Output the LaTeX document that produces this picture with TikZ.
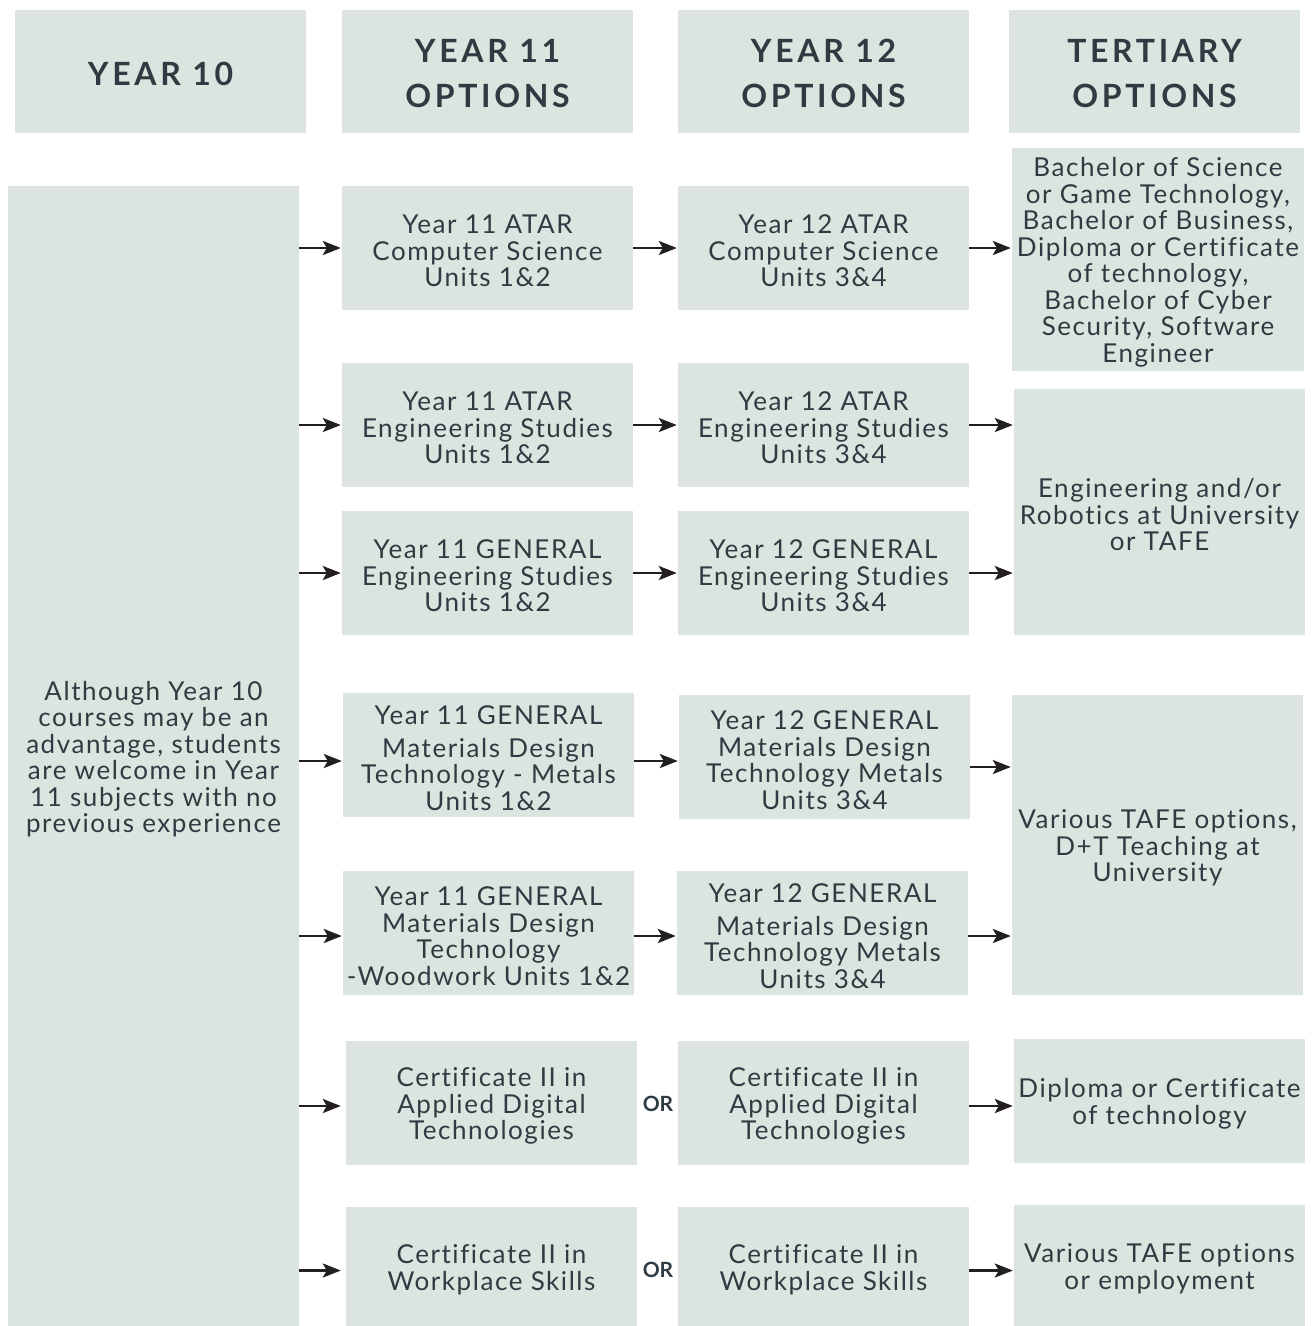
\documentclass[tikz,border=0pt]{standalone}
\usepackage{fontspec}
\setmainfont{Lato}[LetterSpace=6,Ligatures=CommonOff]
\newfontfamily\hdrfont{Lato}[LetterSpace=11.5,Ligatures=CommonOff]
\newfontfamily\orfont{Lato}
\usetikzlibrary{arrows.meta}
\definecolor{boxfill}{HTML}{DCE4DF}
\definecolor{txt}{HTML}{2F3B42}
\definecolor{arrowc}{HTML}{231F20}
\tikzset{
  box/.style={inner sep=0pt, align=center, text=txt,
    font=\fontsize{26}{26.5}\selectfont, minimum width=291pt, minimum height=124pt,
    yshift=-3pt, preaction={fill=boxfill, transform canvas={yshift=3pt}}},
  hdr/.style={inner sep=0pt, align=center, text=txt,
    font=\hdrfont\bfseries\fontsize{32}{45}\selectfont, minimum width=291pt, minimum height=123pt,
    yshift=-2pt, preaction={fill=boxfill, transform canvas={yshift=2pt}}},
  arr/.style={draw=arrowc, line width=2.7pt, shorten >=1pt,
    -{Stealth[length=18pt,width=14pt,inset=4pt]}},
  up/.style={yshift=3pt},
  ortext/.style={text=txt, inner sep=0pt, font=\orfont\bfseries\fontsize{21}{21}\selectfont}
}
\begin{document}
\begin{tikzpicture}[x=1pt,y=-1pt]
\useasboundingbox (0,0) rectangle (1314,1326);
% headers
\node[hdr] (h10) at (160.5,71.5) {YEAR 10};
\node[hdr] (h11) at (487.5,71.5) {YEAR 11\\OPTIONS};
\node[hdr] (h12) at (823.5,71.5) {YEAR 12\\OPTIONS};
\node[hdr] (ht) at (1154.5,71.5) {TERTIARY\\OPTIONS};
% left box
\node[box, minimum height=1140pt] (L) at (153.5,756) {Although Year 10\\courses may be an\\advantage, students\\are welcome in Year\\11 subjects with no\\previous experience};
% year 11 column
\node[box] (a1) at (487.5,248) {Year 11 ATAR\\Computer Science\\Units 1\&2};
\node[box] (a2) at (487.5,425) {Year 11 ATAR\\Engineering Studies\\Units 1\&2};
\node[box] (a3) at (487.5,573) {Year 11 GENERAL\\Engineering Studies\\Units 1\&2};
\node[box] (a4) at (488.5,755) {Year 11 GENERAL\\[6pt]Materials Design\\Technology - Metals\\Units 1\&2};
\node[box] (a5) at (488.5,933) {Year 11 GENERAL\\Materials Design\\Technology\\-Woodwork Units 1\&2};
\node[box] (a6) at (491.5,1103) {Certificate II in\\Applied Digital\\Technologies};
\node[box, minimum height=119pt] (a7) at (491.5,1266.5) {Certificate II in\\Workplace Skills};
% year 12 column
\node[box] (b1) at (823.5,248) {Year 12 ATAR\\Computer Science\\Units 3\&4};
\node[box] (b2) at (823.5,425) {Year 12 ATAR\\Engineering Studies\\Units 3\&4};
\node[box] (b3) at (823.5,573) {Year 12 GENERAL\\Engineering Studies\\Units 3\&4};
\node[box] (b4) at (824.5,757) {Year 12 GENERAL\\Materials Design\\Technology Metals\\Units 3\&4};
\node[box] (b5) at (822.5,933) {Year 12 GENERAL\\[6pt]Materials Design\\Technology Metals\\Units 3\&4};
\node[box] (b6) at (823.5,1103) {Certificate II in\\Applied Digital\\Technologies};
\node[box, minimum height=119pt] (b7) at (823.5,1266.5) {Certificate II in\\Workplace Skills};
% tertiary column
\node[box, minimum height=223pt, minimum width=292pt] (t1) at (1158,259.5) {Bachelor of Science\\or Game Technology,\\Bachelor of Business,\\Diploma or Certificate\\of technology,\\Bachelor of Cyber\\Security, Software\\Engineer};
\node[box, minimum height=246pt] (t2) at (1159.5,512) {Engineering and/or\\Robotics at University\\or TAFE};
\node[box, minimum height=300pt] (t3) at (1157.5,845) {Various TAFE options,\\D+T Teaching at\\University};
\node[box] (t4) at (1159.5,1101) {Diploma or Certificate\\of technology};
\node[box, minimum height=121pt] (t5) at (1159.5,1265.5) {Various TAFE options\\or employment};
% OR labels
\node[ortext] (or1) at (658,1104) {OR};
\node[ortext] (or2) at (658,1270) {OR};
% arrows left -> year 11
\draw[arr] ([up]L.east |- a1) -- ([up]a1.west);
\draw[arr] ([up]L.east |- a2) -- ([up]a2.west);
\draw[arr] ([up]L.east |- a3) -- ([up]a3.west);
\draw[arr] ([yshift=-3pt]L.east |- a4) -- ([yshift=-3pt]a4.west);
\draw[arr] (L.east |- a5) -- (a5.west);
\draw[arr] (L.east |- a6) -- ([xshift=-4pt]a6.west);
\draw[arr] ([yshift=-1pt]L.east |- a7) -- ([xshift=-4pt,yshift=-1pt]a7.west);
% arrows year 11 -> year 12
\draw[arr] ([up]a1.east) -- ([up]b1.west);
\draw[arr] ([up]a2.east) -- ([up]b2.west);
\draw[arr] ([up]a3.east) -- ([up]b3.west);
\draw[arr] ([yshift=-3pt]a4.east) -- ([yshift=-3pt]b4.west |- a4);
\draw[arr] (a5.east) -- (b5.west);
% arrows year 12 -> tertiary
\draw[arr] ([up]b1.east) -- ([up]t1.west |- b1);
\draw[arr] ([up]b2.east) -- ([up]t2.west |- b2);
\draw[arr] ([up]b3.east) -- ([up]t2.west |- b3);
\draw[arr] ([yshift=-7pt]b4.east) -- ([yshift=-7pt]t3.west |- b4);
\draw[arr] (b5.east) -- (t3.west |- b5);
\draw[arr] (b6.east) -- (t4.west |- b6);
\draw[arr] ([yshift=-1pt]b7.east) -- ([yshift=-1pt]t5.west |- b7);
\end{tikzpicture}
\end{document}
